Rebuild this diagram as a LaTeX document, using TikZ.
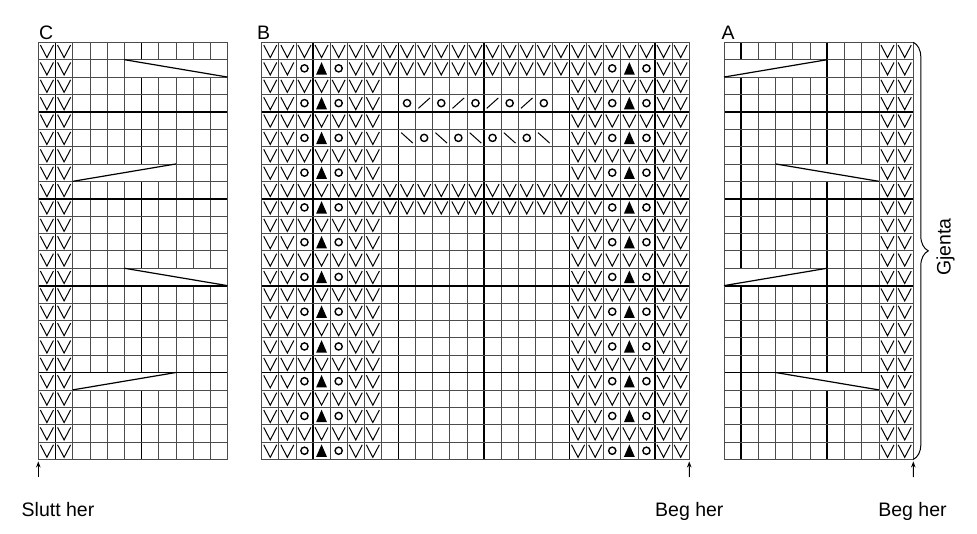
\documentclass[tikz,border=0pt]{standalone}
\usepackage{fontspec}
\setmainfont{Liberation Sans}
\usetikzlibrary{arrows.meta}
\usetikzlibrary{decorations.pathreplacing}

\tikzset{
  thin grid/.style={draw=black!70,line width=0.75pt},
  thick grid/.style={draw=black,line width=1.8pt},
  sym/.style={line width=1pt,line join=miter},
  ring/.style={line width=1.4pt},
  short row/.style={line width=1.2pt},
  chartlabel/.style={inner sep=0pt,font=\fontsize{19.5}{22}\selectfont},
  pointer/.style={-{Stealth[length=6pt,width=4.5pt]},line width=1pt,shorten >=2pt},
}

\newcommand{\kv}[2]{\draw[sym] (#1-0.88,#2-0.84) -- (#1-0.5,#2-0.12) -- (#1-0.12,#2-0.84);}
\newcommand{\ko}[2]{\draw[ring] (#1-0.5,#2-0.5) circle[radius=3.6pt];}
\newcommand{\ktri}[2]{\fill (#1-0.82,#2-0.14) -- (#1-0.18,#2-0.14) -- (#1-0.5,#2-0.86) -- cycle;}
\newcommand{\kfwd}[2]{\draw[sym] (#1-0.84,#2-0.2) -- (#1-0.16,#2-0.8);}
\newcommand{\kbck}[2]{\draw[sym] (#1-0.84,#2-0.8) -- (#1-0.16,#2-0.2);}

\begin{document}
\begin{tikzpicture}[x=1pt,y=-1pt]
  \useasboundingbox (0,0) rectangle (977,534);

  % chart C
  \begin{scope}[shift={(38.3,42.3)},x=17.2pt,y=-17.38pt]
    \foreach \c in {0,...,11} {\draw[thin grid] (\c,0) -- (\c,24);}
    \foreach \c in {1,6} {\draw[thick grid] (\c,0) -- (\c,24);}
    \foreach \r in {2,14} {\fill[white] (5.08,\r-1) rectangle (10.92,\r);}
    \foreach \r in {8,20} {\fill[white] (2.08,\r-1) rectangle (7.92,\r);}
    \foreach \r in {0,...,24} {\draw[thin grid] (0,\r) -- (11,\r);}
    \foreach \r in {4,9,14,19} {\draw[thick grid] (0,\r) -- (11,\r);}
    \draw[thin grid] (0,0) rectangle (11,24);
    \foreach \r in {2,14} {\draw[short row] (5,\r-1) -- (11,\r);}
    \foreach \r in {8,20} {\draw[short row] (2,\r) -- (8,\r-1);}
    \foreach \r in {1,...,24} {\kv{1}{\r} \kv{2}{\r}}
    \coordinate (C-sw) at (0,24);
  \end{scope}

  % chart B
  \begin{scope}[shift={(261.7,42.3)},x=17.1pt,y=-17.38pt]
    \foreach \c in {0,...,25} {\draw[thin grid] (\c,0) -- (\c,24);}
    \foreach \c in {3,8,13,18,23} {\draw[thick grid] (\c,0) -- (\c,24);}
    \foreach \r in {0,...,24} {\draw[thin grid] (0,\r) -- (25,\r);}
    \foreach \r in {4,9,14,19} {\draw[thick grid] (0,\r) -- (25,\r);}
    \draw[thin grid] (0,0) rectangle (25,24);
    \foreach \r in {1,3,...,23} {
      \foreach \c in {1,...,7} {\kv{\c}{\r}}
      \foreach \c in {19,...,25} {\kv{\c}{\r}}
    }
    \foreach \r in {2,4,...,24} {
      \foreach \c in {1,2,6,7,19,20,24,25} {\kv{\c}{\r}}
      \ko{3}{\r} \ktri{4}{\r} \ko{5}{\r}
      \ko{21}{\r} \ktri{22}{\r} \ko{23}{\r}
    }
    \foreach \r in {1,2,9,10} {\foreach \c in {8,...,18} {\kv{\c}{\r}}}
    \foreach \c in {9,11,...,17} {\ko{\c}{4} \kbck{\c}{6}}
    \foreach \c in {10,12,14,16} {\kfwd{\c}{4} \ko{\c}{6}}
    \coordinate (B-se) at (25,24);
  \end{scope}

  % chart A
  \begin{scope}[shift={(724,42.3)},x=17.21pt,y=-17.38pt]
    \foreach \c in {0,...,11} {\draw[thin grid] (\c,0) -- (\c,24);}
    \foreach \c in {1,6} {\draw[thick grid] (\c,0) -- (\c,24);}
    \foreach \r in {2,14} {\fill[white] (0.08,\r-1) rectangle (5.92,\r);}
    \foreach \r in {8,20} {\fill[white] (3.08,\r-1) rectangle (8.92,\r);}
    \foreach \r in {0,...,24} {\draw[thin grid] (0,\r) -- (11,\r);}
    \foreach \r in {4,9,14,19} {\draw[thick grid] (0,\r) -- (11,\r);}
    \draw[thin grid] (0,0) rectangle (11,24);
    \foreach \r in {2,14} {\draw[short row] (0,\r) -- (6,\r-1);}
    \foreach \r in {8,20} {\draw[short row] (3,\r-1) -- (9,\r);}
    \foreach \r in {1,...,24} {\kv{10}{\r} \kv{11}{\r}}
    \coordinate (A-ne) at (11,0);
    \coordinate (A-se) at (11,24);
  \end{scope}

  \node[chartlabel,anchor=base west] (labC) at (39,40) {C};
  \node[chartlabel,anchor=base west] (labB) at (257,40) {B};
  \node[chartlabel,anchor=base west] (labA) at (721.5,40) {A};

  \node[chartlabel,anchor=base west] (slutt) at (21.5,516) {Slutt her};
  \node[chartlabel,anchor=base] (begB) at (689.3,516) {Beg her};
  \node[chartlabel,anchor=base] (begA) at (912.5,516) {Beg her};
  \node[chartlabel,anchor=base,rotate=90] (gjenta) at (950.5,247) {Gjenta};

  \coordinate (arrC) at (38.3,477);
  \coordinate (arrB) at (689.3,477);
  \coordinate (arrA) at (913.3,477);
  \draw[pointer] (arrC) -- (C-sw);
  \draw[pointer] (arrB) -- (B-se);
  \draw[pointer] (arrA) -- (A-se);

  \draw[line width=1pt,decorate,decoration={brace,amplitude=15pt}] (A-ne) -- (A-se);
\end{tikzpicture}
\end{document}
